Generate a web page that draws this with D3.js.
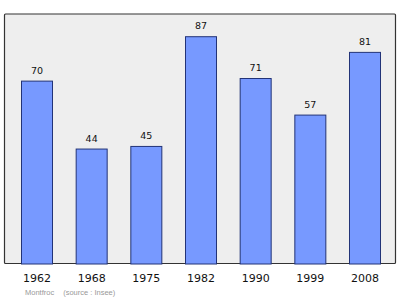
<!DOCTYPE html>
<html>
<head>
<meta charset="utf-8">
<script src="https://cdn.jsdelivr.net/npm/d3@7"></script>
<style>
  html, body { margin: 0; padding: 0; background: #fff; }
  svg { display: block; }
</style>
</head>
<body>
<svg id="chart" width="400" height="299"></svg>
<script>
// Population of Montfroc by census year
const years = ["1962", "1968", "1975", "1982", "1990", "1999", "2008"];
const population = [70, 44, 45, 87, 71, 57, 81];
const commune = "Montfroc";
const sourceNote = "(source : Insee)";

const svg = d3.select("#chart");
const frame = { left: 4.5, top: 14, right: 395.5, bottom: 263.5 };

const x = d3.scaleBand()
  .domain(years)
  .range([21, 380])
  .paddingInner(0.433)
  .paddingOuter(0);

const y = d3.scaleLinear()
  .domain([0, 95.5])
  .range([frame.bottom, frame.top]);

// plot background and frame
svg.append("rect")
  .attr("x", frame.left).attr("y", frame.top)
  .attr("width", frame.right - frame.left)
  .attr("height", frame.bottom - frame.top)
  .attr("fill", "#eeeeee")
  .attr("stroke", "#333")
  .attr("stroke-width", 1.2)
  .attr("rx", 1);

// bars
svg.append("g").selectAll("rect")
  .data(years)
  .join("rect")
  .attr("x", (d) => x(d) + 0.5)
  .attr("y", (d, i) => y(population[i]) + 0.5)
  .attr("width", x.bandwidth())
  .attr("height", (d, i) => frame.bottom - y(population[i]))
  .attr("fill", "#7799ff")
  .attr("stroke", "#223377")
  .attr("stroke-width", 1);

// value labels
svg.append("g").selectAll("text")
  .data(years)
  .join("text")
  .attr("x", (d) => x(d) + x.bandwidth() / 2 + 0.5)
  .attr("y", (d, i) => y(population[i]) - 7)
  .attr("text-anchor", "middle")
  .attr("font-family", "DejaVu Sans, sans-serif")
  .attr("font-size", 9.5)
  .attr("fill", "#111")
  .text((d, i) => population[i]);

// year axis labels
const axis = d3.axisBottom(x).tickSize(0).tickPadding(0);
const gx = svg.append("g")
  .attr("transform", `translate(0.5, ${frame.bottom + 10.5})`)
  .call(axis);
gx.select(".domain").remove();
gx.selectAll("text")
  .attr("font-family", "DejaVu Sans, sans-serif")
  .attr("font-size", 11)
  .attr("fill", "#111")
  .attr("dy", "0.71em");

// source note
const note = svg.append("text")
  .attr("x", 25)
  .attr("y", 295)
  .attr("font-family", "Liberation Sans Narrow, Liberation Sans, sans-serif")
  .attr("font-size", 7.5)
  .attr("fill", "#999");
note.append("tspan").text(commune);
note.append("tspan").attr("dx", 9).text(sourceNote);
</script>
</body>
</html>
